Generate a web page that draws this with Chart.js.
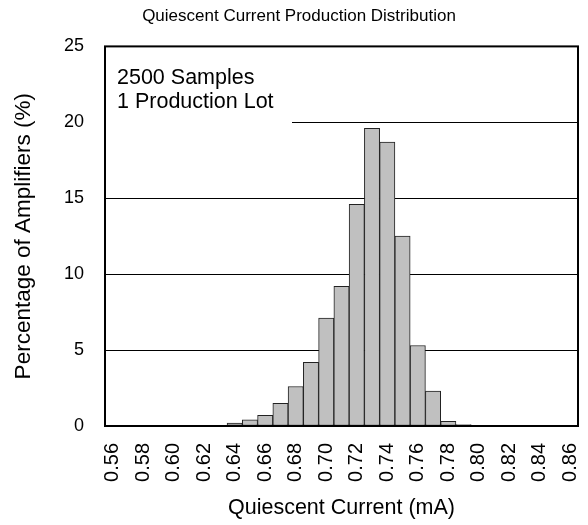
<!DOCTYPE html>
<html>
<head>
<meta charset="utf-8">
<script src="https://cdn.jsdelivr.net/npm/chart.js@4/dist/chart.umd.min.js"></script>
<style>
  body { margin: 0; background: #fff; }
  canvas { display: block; }
</style>
</head>
<body>
<canvas id="hist" width="588" height="525"></canvas>
<script>
// Histogram data (bin centres in mA, percentage of parts)
const bins = ["0.56", "0.57", "0.58", "0.59", "0.60", "0.61", "0.62", "0.63", "0.64", "0.65", "0.66",
  "0.67", "0.68", "0.69", "0.70", "0.71", "0.72", "0.73", "0.74", "0.75", "0.76",
  "0.77", "0.78", "0.79", "0.80", "0.81", "0.82", "0.83", "0.84", "0.85", "0.86"];
const percent = [0, 0, 0, 0, 0, 0, 0, 0, 0.2, 0.4, 0.7,
  1.5, 2.6, 4.2, 7.1, 9.2, 14.6, 19.6, 18.7, 12.5, 5.3,
  2.3, 0.3, 0.1, 0, 0, 0, 0, 0, 0, 0];
const xTickLabels = ["0.56", "0.58", "0.60", "0.62", "0.64", "0.66", "0.68", "0.70",
  "0.72", "0.74", "0.76", "0.78", "0.80", "0.82", "0.84", "0.86"];
const noteLines = ["2500 Samples", "1 Production Lot"];

const FONT = "'Liberation Sans', Arial, sans-serif";

// white note box in the top left corner, covers the gridline behind it
const noteBox = {
  id: "noteBox",
  afterDatasetsDraw(chart) {
    const ctx = chart.ctx;
    const a = chart.chartArea;
    ctx.save();
    ctx.fillStyle = "#fff";
    ctx.fillRect(a.left + 1, a.top + 1, 186, 79);
    ctx.fillStyle = "#000";
    ctx.font = "21.5px " + FONT;
    ctx.textBaseline = "alphabetic";
    ctx.fillText(noteLines[0], a.left + 12, a.top + 38);
    ctx.fillText(noteLines[1], a.left + 12, a.top + 62);
    ctx.restore();
  },
  afterDraw(chart) {
    // frame round the plot area
    const ctx = chart.ctx;
    const a = chart.chartArea;
    ctx.save();
    ctx.strokeStyle = "#000";
    ctx.lineWidth = 2;
    ctx.strokeRect(a.left, a.top, a.right - a.left, a.bottom - a.top);
    ctx.restore();
  }
};

new Chart(document.getElementById("hist").getContext("2d"), {
  type: "bar",
  data: {
    labels: bins,
    datasets: [
      {
        data: percent,
        backgroundColor: "#c0c0c0",
        borderColor: "#222",
        borderWidth: 1,
        borderSkipped: false,
        barPercentage: 1,
        categoryPercentage: 1,
      },
    ],
  },
  options: {
    responsive: false,
    animation: false,
    devicePixelRatio: 1,
    layout: { padding: { left: 10, right: 0, top: 0, bottom: 0 } },
    plugins: {
      legend: { display: false },
      tooltip: { enabled: false },
      title: {
        display: true,
        text: "Quiescent Current Production Distribution",
        color: "#000",
        font: { family: FONT, size: 17, weight: "normal" },
        padding: { top: 6, bottom: 20 },
      },
    },
    scales: {
      x: {
        grid: { display: false, drawTicks: false },
        border: { display: false },
        ticks: {
          autoSkip: false,
          maxRotation: 90,
          minRotation: 90,
          padding: 17,
          color: "#000",
          font: { family: FONT, size: 20 },
          callback: function (value) {
            const lab = this.getLabelForValue(value);
            return xTickLabels.includes(lab) ? lab : "";
          },
        },
        title: {
          display: true,
          text: "Quiescent Current (mA)",
          color: "#000",
          font: { family: FONT, size: 21.5 },
          padding: { top: 0, bottom: 4 },
        },
        afterFit: (s) => {
          s.height = 99;
          s.paddingLeft = 0;
          s.paddingRight = 10;
        },
      },
      y: {
        min: 0,
        max: 25,
        ticks: {
          stepSize: 5,
          padding: 21,
          color: "#000",
          font: { family: FONT, size: 18 },
        },
        grid: { color: "#000", lineWidth: 1, drawTicks: false },
        border: { display: false },
        title: {
          display: true,
          text: "Percentage of Amplifiers (%)",
          color: "#000",
          font: { family: FONT, size: 22.5 },
          padding: 0,
        },
        afterFit: (s) => {
          s.width = 95;
          s.paddingTop = 0;
          s.paddingBottom = 0;
        },
      },
    },
  },
  plugins: [noteBox],
});
</script>
</body>
</html>
